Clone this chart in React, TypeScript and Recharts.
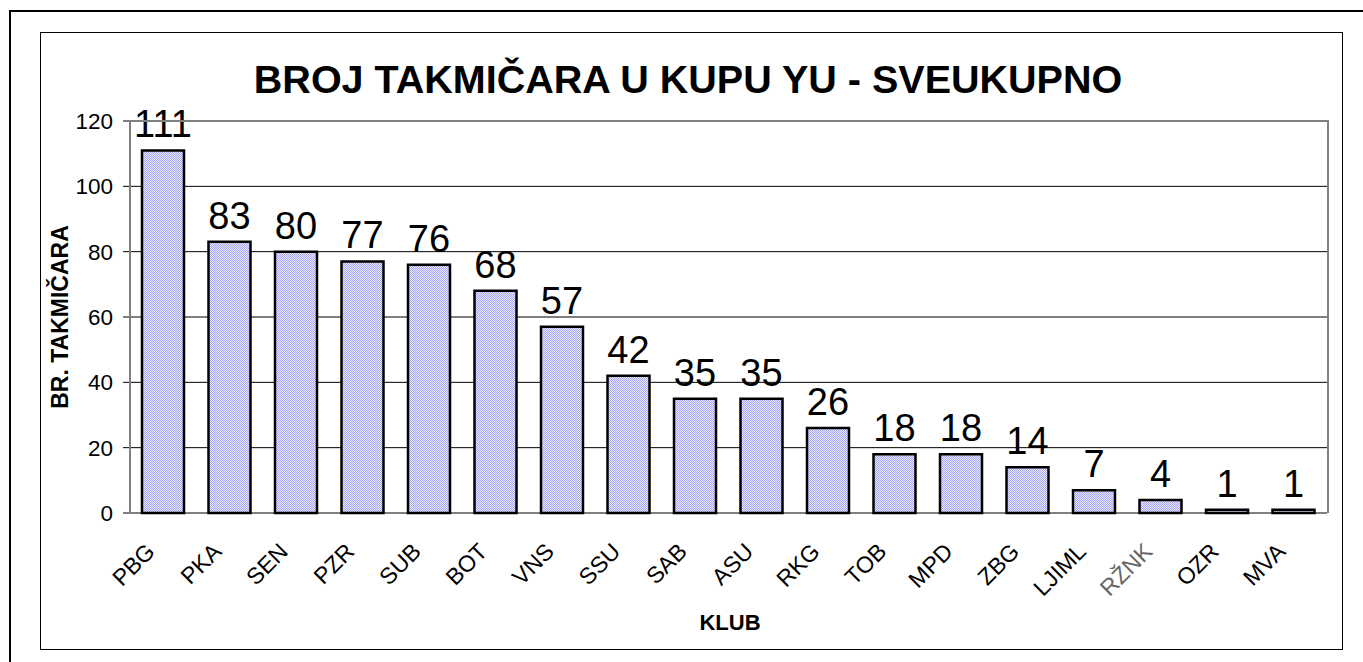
import { BarChart, Bar, XAxis, YAxis, CartesianGrid, LabelList } from 'recharts';

const clubs = ['PBG', 'PKA', 'SEN', 'PZR', 'SUB', 'BOT', 'VNS', 'SSU', 'SAB', 'ASU', 'RKG', 'TOB', 'MPD', 'ZBG', 'LJIML', 'RŽNK', 'OZR', 'MVA'];
const competitors = [111, 83, 80, 77, 76, 68, 57, 42, 35, 35, 26, 18, 18, 14, 7, 4, 1, 1];
const yTicks = [0, 20, 40, 60, 80, 100, 120];
const fadedClubs = ['RŽNK'];

const data = clubs.map((club, i) => ({ club, value: competitors[i] }));
const boundaryTicks = [...clubs.map((_, i) => i), clubs.length];

const FONT = 'Arial, "Liberation Sans", sans-serif';

// rotated club names, anchored just left of the category center
const ClubTick = (props: any) => {
    const { x, y, payload } = props;
    const tx = x - 7;
    const ty = y + 40;
    const faded = fadedClubs.includes(payload.value);
    return (
        <text x={tx} y={ty} transform={`rotate(-45, ${tx}, ${ty})`} textAnchor="end" fontSize={23}
            fill={faded ? '#666' : '#000'} fontFamily={FONT}>
            {payload.value}
        </text>
    );
};

export default function App() {
    return (
        <div style={{ position: 'absolute', left: 0, top: 0, width: 1363, height: 662, background: '#fff', fontFamily: FONT, overflow: 'hidden' }}>
            {/* pattern for the dithered bar fill */}
            <svg width={0} height={0} style={{ position: 'absolute' }}>
                <defs>
                    <pattern id="dither" width={2} height={2} patternUnits="userSpaceOnUse">
                        <rect width={2} height={2} fill="#e6e6ff" />
                        <rect x={0} y={0} width={1} height={1} fill="#a8a8f6" />
                        <rect x={1} y={1} width={1} height={1} fill="#a8a8f6" />
                    </pattern>
                </defs>
            </svg>

            {/* outer + inner frames */}
            <div style={{ position: 'absolute', left: 9, top: 10, width: 1400, height: 700, borderLeft: '2px solid #000', borderTop: '2px solid #000' }} />
            <div style={{ position: 'absolute', left: 40, top: 32, width: 1303, height: 618, border: '1px solid #000', boxSizing: 'border-box' }} />

            <div style={{ position: 'absolute', left: 40, top: 32 }}>
                <BarChart width={1302} height={617} data={data} margin={{ top: 89, right: 15, bottom: 76, left: 30 }}>
                    <CartesianGrid xAxisId="cat" vertical={false} stroke="#000" strokeWidth={1} />
                    <XAxis xAxisId="grid" type="number" domain={[0, clubs.length]} ticks={boundaryTicks} allowDataOverflow
                        tick={false} tickSize={7} height={0} axisLine={{ stroke: '#000', strokeWidth: 1 }} tickLine={{ stroke: '#000' }} />
                    <XAxis xAxisId="cat" dataKey="club" height={60} axisLine={false} tickLine={false} tickSize={0} tickMargin={0}
                        interval={0} tick={<ClubTick />} />
                    <YAxis width={60} domain={[0, 120]} ticks={yTicks} interval={0} tickSize={7} tickMargin={10}
                        axisLine={false} tickLine={{ stroke: '#000' }}
                        tick={{ fontSize: 22.5, fill: '#000', fontFamily: FONT }} />
                    <Bar xAxisId="cat" dataKey="value" barSize={42} fill="url(#dither)" stroke="#000" strokeWidth={2.5} isAnimationActive={false}>
                        <LabelList dataKey="value" position="top" offset={13} fontSize={38} fill="#000" fontFamily={FONT} />
                    </Bar>
                </BarChart>
            </div>

            {/* plot area frame (gray, Excel style) */}
            <div style={{ position: 'absolute', left: 129, top: 120, width: 1200, height: 393, borderTop: '2px solid #808080', borderLeft: '2px solid #808080', borderRight: '2px solid #808080', boxSizing: 'border-box', pointerEvents: 'none' }} />

            {/* titles */}
            <svg width={1363} height={662} style={{ position: 'absolute', left: 0, top: 0, pointerEvents: 'none' }}>
                <text x={688} y={93} textAnchor="middle" fontSize={39.5} fontWeight="bold" fill="#000" fontFamily={FONT}>
                    BROJ TAKMIČARA U KUPU YU - SVEUKUPNO
                </text>
                <text x={68} y={317} transform="rotate(-90, 68, 317)" textAnchor="middle" fontSize={23} fontWeight="bold" fill="#000" fontFamily={FONT}>
                    BR. TAKMIČARA
                </text>
                <text x={730} y={630} textAnchor="middle" fontSize={22} fontWeight="bold" fill="#000" fontFamily={FONT}>
                    KLUB
                </text>
            </svg>
        </div>
    );
}
